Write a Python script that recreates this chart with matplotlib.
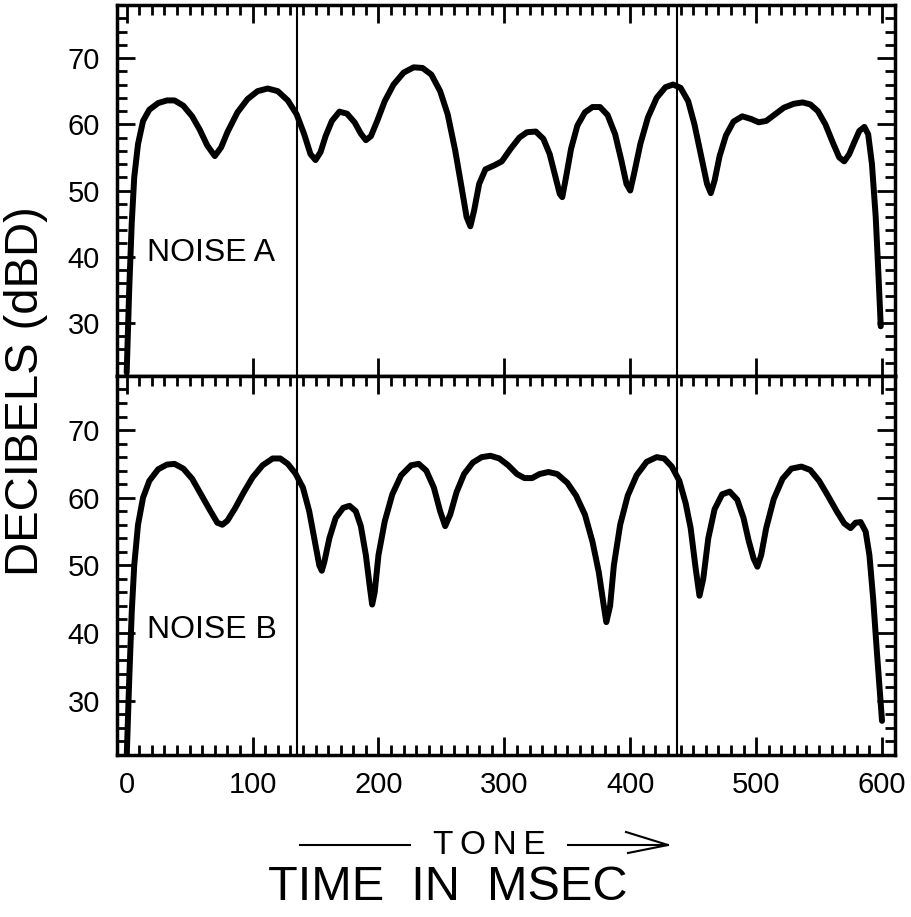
import matplotlib.pyplot as plt
from matplotlib.lines import Line2D
from matplotlib.ticker import MultipleLocator

plt.rcParams['font.family'] = ['Liberation Sans', 'DejaVu Sans']

# noise A (upper panel)
time_a = [0, 2, 4, 6, 9, 13, 18, 25, 32, 38, 45, 52, 58, 64, 70, 75, 80, 88, 96,
          104, 112, 120, 128, 135, 141, 146, 150, 154, 158, 163, 169, 175, 181,
          186, 190, 194, 199, 205, 212, 220, 228, 235, 242, 249, 255, 261, 266,
          270, 273, 276, 280, 285, 292, 298, 305, 312, 318, 325, 331, 336, 340,
          344, 346, 349, 353, 358, 364, 370, 376, 382, 388, 393, 397, 400, 403,
          408, 414, 421, 428, 434, 440, 446, 451, 456, 461, 464, 467, 471, 476,
          482, 489, 496, 502, 508, 515, 522, 530, 537, 543, 549, 555, 561, 566,
          570, 574, 578, 582, 586, 589, 592, 595, 597, 599]
db_a = [22.5, 35, 45, 52, 57, 60.5, 62.2, 63.2, 63.6, 63.6, 62.8, 61.2, 59.2,
        56.8, 55.2, 56.5, 58.8, 61.8, 63.8, 65, 65.4, 65, 63.6, 61.5, 58.5, 55.5,
        54.6, 55.8, 58.2, 60.5, 61.9, 61.6, 60.3, 58.6, 57.6, 58.2, 60.5, 63.5,
        66, 67.8, 68.6, 68.5, 67.5, 65, 61.5, 56, 50.5, 46, 44.6, 47, 51, 53.2,
        53.8, 54.4, 56.3, 58, 58.8, 58.9, 57.8, 55.5, 52.5, 49.5, 49, 52, 56.3,
        59.8, 61.8, 62.6, 62.6, 61.4, 58.5, 54.5, 51, 50, 52.5, 57, 61, 64, 65.6,
        66, 65.5, 63.5, 60, 55.5, 51, 49.6, 51.5, 55.2, 58.3, 60.4, 61.2, 60.8,
        60.3, 60.5, 61.5, 62.5, 63.1, 63.3, 63, 62, 60, 57.2, 55, 54.4, 55.5,
        57.3, 59, 59.6, 58.5, 54, 46, 38, 29.5]

# noise B (lower panel)
time_b = [0, 2, 4, 6, 9, 13, 18, 25, 32, 38, 45, 52, 59, 66, 72, 76, 80, 86, 93,
          100, 108, 116, 122, 128, 134, 140, 145, 150, 153, 155, 157, 161, 166,
          172, 177, 182, 186, 190, 193, 195, 197, 200, 205, 211, 218, 226, 232,
          238, 244, 249, 253, 257, 262, 268, 275, 282, 289, 296, 303, 310, 316,
          322, 328, 335, 342, 350, 357, 364, 370, 375, 379, 381, 384, 387, 392,
          398, 405, 413, 421, 427, 433, 439, 444, 448, 452, 455, 458, 462, 467,
          473, 479, 485, 490, 494, 498, 501, 504, 508, 514, 521, 528, 536, 543,
          550, 557, 564, 570, 575, 579, 583, 587, 590, 593, 596, 598, 600]
db_b = [21.5, 33, 43, 50, 56, 60, 62.5, 64.2, 64.9, 65, 64.3, 62.8, 60.5, 58.2,
        56.3, 56, 56.6, 58.4, 60.8, 63, 64.8, 65.8, 65.8, 65, 63.6, 61.5, 58, 53,
        50, 49.2, 50.5, 54, 57, 58.5, 58.8, 58, 55.8, 51.5, 47, 44.2, 46, 51.5,
        56.5, 60.5, 63.3, 64.8, 65, 64, 61.5, 58, 55.8, 57.5, 60.8, 63.5, 65.2,
        66, 66.2, 65.8, 64.8, 63.5, 62.9, 62.9, 63.5, 63.8, 63.5, 62.2, 60.3,
        57.5, 53.5, 49, 44, 41.6, 44, 50, 56, 60.3, 63.3, 65.3, 66, 65.8, 64.6,
        62.5, 59.2, 55.5, 49.5, 45.5, 48, 54, 58.3, 60.5, 60.9, 59.7, 57, 53.7,
        51, 49.8, 51.5, 55.5, 59.8, 62.8, 64.3, 64.6, 64.1, 62.5, 60.3, 58, 56.2,
        55.5, 56.3, 56.4, 55, 51.5, 45, 37, 32, 27]

tone_on = 135
tone_off = 437
panel_labels = ['NOISE A', 'NOISE B']


def style_panel(ax):
    ax.set_xlim(-8, 610)
    ax.set_ylim(22, 78)
    ax.xaxis.set_major_locator(MultipleLocator(100))
    ax.xaxis.set_minor_locator(MultipleLocator(10))
    ax.yaxis.set_major_locator(MultipleLocator(10))
    ax.yaxis.set_minor_locator(MultipleLocator(2))
    ax.tick_params(which='both', direction='in', top=True, right=True,
                   width=2, labelsize=21)
    ax.tick_params(which='major', length=13)
    ax.tick_params(which='minor', length=7)
    ax.tick_params(axis='y', pad=12)
    ax.tick_params(axis='x', pad=12)
    for sp in ax.spines.values():
        sp.set_linewidth(2.5)
    ax.axvline(tone_on, color='black', lw=1.5)
    ax.axvline(tone_off, color='black', lw=1.5)
    return ax


fig = plt.figure(figsize=(9.11, 9.17), dpi=100)
ax_a = fig.add_axes([0.128, 0.590, 0.854, 0.4045])
ax_b = fig.add_axes([0.128, 0.177, 0.854, 0.413])

for ax, t, db, lab in zip([ax_a, ax_b], [time_a, time_b], [db_a, db_b], panel_labels):
    style_panel(ax)
    ax.plot(t, db, color='black', lw=4.3, solid_joinstyle='round',
            solid_capstyle='round')
    ax.text(16, 40.5, lab, fontsize=23, va='center', ha='left')

ax_a.tick_params(axis='x', which='minor', bottom=False)
ax_a.tick_params(labelbottom=False)

fig.text(0.029, 0.573, 'DECIBELS (dBD)', rotation=90, fontsize=34,
         ha='center', va='center')

# tone marker under the axis
y_tone = 1 - 845 / 917
fig.text(0.537, y_tone, 'T\u2009O\u2009N\u2009E', fontsize=24,
         ha='center', va='center')
fig.add_artist(Line2D([300 / 911, 410 / 911], [y_tone, y_tone],
                      transform=fig.transFigure, color='black', lw=1.5))
fig.add_artist(Line2D([568 / 911, 668 / 911], [y_tone, y_tone],
                      transform=fig.transFigure, color='black', lw=1.5))
fig.add_artist(Line2D([626 / 911, 668 / 911, 628 / 911],
                      [y_tone + 13 / 917, y_tone, y_tone - 8 / 917],
                      transform=fig.transFigure, color='black', lw=1.5))

fig.text(0.492, 1 - 888 / 917, 'TIME  IN  MSEC', fontsize=35,
         ha='center', va='center')

fig.savefig('out.png', dpi=100)
